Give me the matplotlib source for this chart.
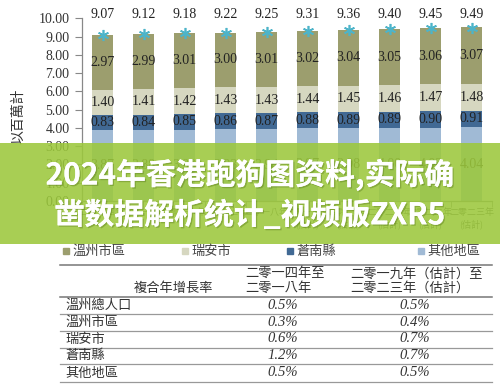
import matplotlib.pyplot as plt
import matplotlib.patheffects as pe
from matplotlib.patches import Rectangle
import numpy as np

# 資料
years = ['二零一四年', '二零一五年', '二零一六年', '二零一七年', '二零一八年',
         '二零一九年\n(估計)', '二零二零年\n(估計)', '二零二一年\n(估計)',
         '二零二二年\n(估計)', '二零二三年\n(估計)']
other = [3.87, 3.88, 3.90, 3.93, 3.94, 3.97, 3.98, 4.00, 4.02, 4.04]
cangnan = [0.83, 0.84, 0.85, 0.86, 0.87, 0.88, 0.89, 0.89, 0.90, 0.91]
ruian = [1.40, 1.41, 1.42, 1.43, 1.43, 1.44, 1.45, 1.46, 1.47, 1.48]
wenzhou = [2.97, 2.99, 3.01, 3.00, 3.01, 3.02, 3.04, 3.05, 3.06, 3.07]
totals = [9.07, 9.12, 9.18, 9.22, 9.25, 9.31, 9.36, 9.40, 9.45, 9.49]

series_names = ['溫州市區', '瑞安市', '蒼南縣', '其他地區']
colors = {'溫州市區': '#9c9e6e', '瑞安市': '#d6d7c0', '蒼南縣': '#416994', '其他地區': '#a0bad5'}

table_header = ['複合年增長率', '二零一四年至\n二零一八年', '二零一九年（估計）至\n二零二三年（估計）']
table_rows = ['溫州總人口', '溫州市區', '瑞安市', '蒼南縣', '其他地區']
cagr_14_18 = ['0.5%', '0.3%', '0.6%', '1.2%', '0.5%']
cagr_19_23 = ['0.5%', '0.4%', '0.7%', '0.7%', '0.5%']

banner = ['2024年香港跑狗图资料,实际确', '凿数据解析统计_视频版ZXR5']

serif = 'Liberation Serif'
cjk = ['Noto Sans CJK TC', 'DejaVu Sans']

fig = plt.figure(figsize=(5, 3.88), dpi=100)
fig.patch.set_facecolor('white')

ax = fig.add_axes([82 / 500, 1 - 201 / 388, 410 / 500, (201 - 18.3) / 388])
x = np.arange(len(years))
w = 0.49

# 堆疊柱
bottom = np.zeros(len(years))
for name, vals in [('其他地區', other), ('蒼南縣', cangnan), ('瑞安市', ruian), ('溫州市區', wenzhou)]:
    vals = np.array(vals)
    ax.bar(x, vals, w, bottom=bottom, color=colors[name], zorder=2)
    for xi, b, v in zip(x, bottom, vals):
        ax.text(xi, b + v / 2, f'{v:.2f}', ha='center', va='center',
                fontfamily=serif, fontsize=10, color='#222222', zorder=3)
    bottom += vals

ax.plot(x, totals, linestyle='none', marker=(6, 2, 0), markersize=8,
        markeredgewidth=1.2, color='#4db4c9', zorder=4)
for xi, t in zip(x, totals):
    ax.text(xi, 10.22, f'{t:.2f}', ha='center', va='center', fontfamily=serif,
            fontsize=10, color='#222222', clip_on=False)

ax.set_xlim(-0.5, 9.5)
ax.set_ylim(0, 10)
ax.set_yticks(np.arange(0, 11, 1))
ax.set_yticklabels([f'{v:.2f}' for v in np.arange(0, 11, 1)], fontfamily=serif,
                   fontsize=10, color='#333333')
ax.set_xticks(x)
ax.set_xticklabels(years, fontfamily=cjk, fontsize=6.5, color='#555555', linespacing=1.3)
ax.set_xticks(np.arange(-0.5, 10, 1), minor=True)
ax.tick_params(axis='x', which='major', length=0, pad=5)
ax.tick_params(axis='x', which='minor', length=4, color='#888888', direction='out')
ax.tick_params(axis='y', length=5, color='#888888', pad=4)
for s in ['top', 'right']:
    ax.spines[s].set_visible(False)
for s in ['left', 'bottom']:
    ax.spines[s].set_color('#888888')
    ax.spines[s].set_linewidth(0.9)

fig.text(18 / 500, 1 - 116 / 388, '以百萬計', rotation=90, ha='center', va='center',
         fontfamily=cjk, fontsize=10, color='#333333')

# 疊加層：圖例、表格、橫幅
ov = fig.add_axes([0, 0, 1, 1], zorder=5)
ov.set_xlim(0, 500)
ov.set_ylim(388, 0)
ov.axis('off')
ov.patch.set_alpha(0)

leg_x = [63, 182, 287, 418]
for lx, name in zip(leg_x, series_names):
    ov.add_patch(Rectangle((lx, 248), 5.5, 5.5, color=colors[name]))
    ov.text(lx + 9, 251, name, ha='left', va='center', fontfamily=cjk,
            fontsize=9.5, color='#444444')

# 表格
for yy in [265, 297]:
    ov.plot([60, 492], [yy, yy], color='#777777', lw=1.1)
for yy in [314, 331, 347.5, 364, 382]:
    ov.plot([60, 492], [yy, yy], color='#999999', lw=0.9)

ov.text(213, 288, table_header[0], ha='right', va='center', fontfamily=cjk,
        fontsize=9.5, color='#333333')
ov.text(245, 281, table_header[1], ha='left', va='center', fontfamily=cjk,
        fontsize=9.5, color='#333333', linespacing=1.15)
ov.text(350, 281, table_header[2], ha='left', va='center', fontfamily=cjk,
        fontsize=9.5, color='#333333', linespacing=1.15)

row_y = [305.5, 322.5, 339, 355.5, 373]
for ry, name, a, b in zip(row_y, table_rows, cagr_14_18, cagr_19_23):
    ov.text(65, ry, name, ha='left', va='center', fontfamily=cjk,
            fontsize=9.5, color='#333333')
    ov.text(283, ry, a, ha='center', va='center', fontfamily=serif,
            style='italic', fontsize=10.5, color='#333333')
    ov.text(415, ry, b, ha='center', va='center', fontfamily=serif,
            style='italic', fontsize=10.5, color='#333333')

# 橫幅
ov.add_patch(Rectangle((0, 143), 500, 101, color='#9cc83c', alpha=0.88, lw=0))
shadow = [pe.withSimplePatchShadow(offset=(1, -1), shadow_rgbFace='#4a6a10', alpha=0.35), pe.Normal()]
for ty, line in zip([175, 215], banner):
    ov.text(250, ty, line, ha='center', va='center', fontfamily=['Noto Sans CJK SC', 'DejaVu Sans'],
            fontweight='bold', fontsize=21.5, color='white', path_effects=shadow)

fig.savefig('out.png', dpi=100)
